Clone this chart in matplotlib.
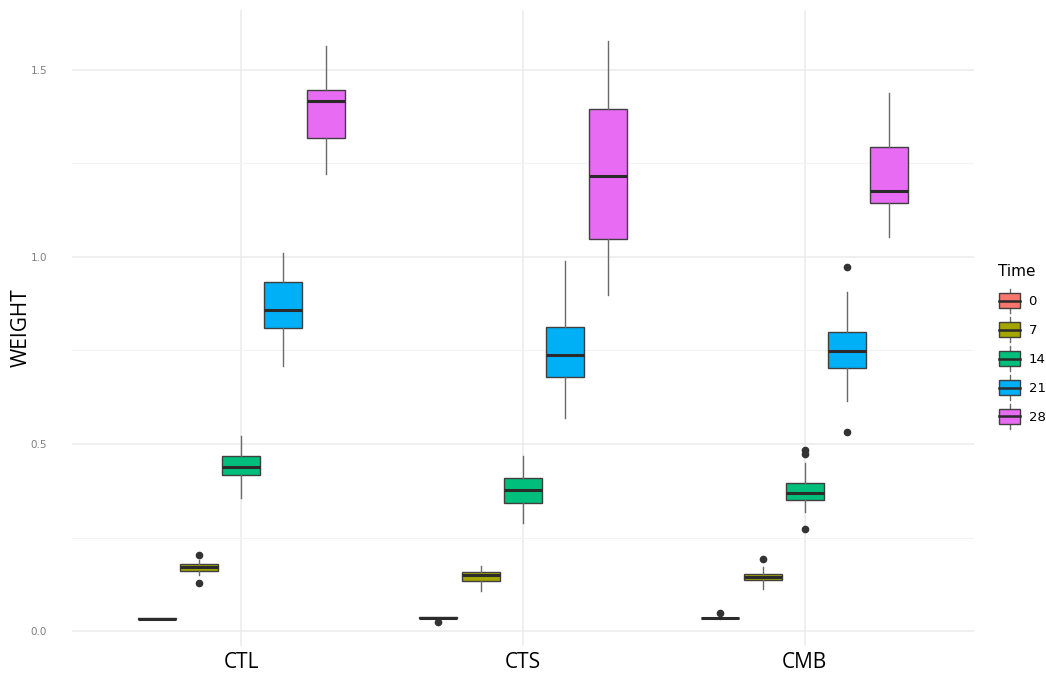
import matplotlib
matplotlib.use("Agg")
import matplotlib.pyplot as plt
from matplotlib.legend_handler import HandlerBase
from matplotlib.patches import Rectangle
from matplotlib.lines import Line2D
import numpy as np

# Treatments on the x axis and sampling days (hue)
treatments = ["CTL", "CTS", "CMB"]
times = ["0", "7", "14", "21", "28"]
colors = ["#F8766D", "#A3A500", "#00BF7D", "#00B0F6", "#E76BF3"]

# Box statistics per treatment, one entry per time: lower whisker, Q1, median, Q3, upper whisker
ctl_whislo = [0.031, 0.150, 0.356, 0.709, 1.222]
ctl_q1     = [0.032, 0.160, 0.417, 0.811, 1.319]
ctl_med    = [0.033, 0.170, 0.439, 0.858, 1.417]
ctl_q3     = [0.034, 0.178, 0.467, 0.933, 1.447]
ctl_whishi = [0.035, 0.190, 0.521, 1.010, 1.565]
ctl_fliers = [[], [0.203, 0.128], [], [], []]

cts_whislo = [0.034, 0.106, 0.289, 0.570, 0.897]
cts_q1     = [0.035, 0.134, 0.342, 0.680, 1.047]
cts_med    = [0.036, 0.149, 0.377, 0.738, 1.217]
cts_q3     = [0.037, 0.157, 0.409, 0.814, 1.396]
cts_whishi = [0.038, 0.174, 0.468, 0.988, 1.578]
cts_fliers = [[0.025], [], [], [], []]

cmb_whislo = [0.033, 0.112, 0.318, 0.615, 1.054]
cmb_q1     = [0.034, 0.136, 0.350, 0.704, 1.145]
cmb_med    = [0.035, 0.144, 0.369, 0.749, 1.175]
cmb_q3     = [0.036, 0.152, 0.396, 0.800, 1.295]
cmb_whishi = [0.037, 0.172, 0.449, 0.907, 1.438]
cmb_fliers = [[0.047], [0.192], [0.485, 0.472, 0.273], [0.972, 0.533], []]

groups = [
    (ctl_whislo, ctl_q1, ctl_med, ctl_q3, ctl_whishi, ctl_fliers),
    (cts_whislo, cts_q1, cts_med, cts_q3, cts_whishi, cts_fliers),
    (cmb_whislo, cmb_q1, cmb_med, cmb_q3, cmb_whishi, cmb_fliers),
]

fig = plt.figure(figsize=(10.46, 6.78), dpi=100)
ax = fig.add_axes([72 / 1046, 1 - 646 / 678, (974 - 72) / 1046, (646 - 10) / 678])

edge = "#3f3f3f"
whisk = "#6a6a6a"
dodge = 0.15
box_w = 0.135

for gi, (wlo, q1, med, q3, whi, fl) in enumerate(groups):
    for ti in range(len(times)):
        pos = gi + 1 + (ti - 2) * dodge
        stats = [dict(whislo=wlo[ti], q1=q1[ti], med=med[ti], q3=q3[ti],
                      whishi=whi[ti], fliers=fl[ti])]
        ax.bxp(stats, positions=[pos], widths=box_w, patch_artist=True,
               showcaps=False, manage_ticks=False,
               boxprops=dict(facecolor=colors[ti], edgecolor=edge, linewidth=1.0),
               medianprops=dict(color="#2b2b2b", linewidth=2.2, solid_capstyle="butt"),
               whiskerprops=dict(color=whisk, linewidth=1.0),
               flierprops=dict(marker="o", markersize=4.5, markerfacecolor="#333333",
                               markeredgecolor="#333333", linestyle="none"),
               zorder=3)

ax.set_xlim(0.4, 3.6)
ax.set_ylim(-0.04, 1.66)
ax.set_xticks([1, 2, 3])
ax.set_xticklabels(treatments, fontsize=15, family="Open Sans")
ax.set_yticks([0.0, 0.5, 1.0, 1.5])
ax.set_yticklabels(["0.0", "0.5", "1.0", "1.5"], fontsize=7.5, color="#7f7f7f")
ax.set_yticks([0.25, 0.75, 1.25], minor=True)
ax.tick_params(axis="both", which="both", length=0)
ax.tick_params(axis="x", pad=4)
ax.tick_params(axis="y", pad=18)
ax.grid(True, which="major", color="#EBEBEB", linewidth=1.1, zorder=0)
ax.grid(True, which="minor", axis="y", color="#F3F3F3", linewidth=0.8, zorder=0)
ax.set_axisbelow(True)
for s in ax.spines.values():
    s.set_visible(False)
ax.set_ylabel("WEIGHT", fontsize=15, family="Open Sans")
ax.yaxis.set_label_coords((32 - 72) / 902, 0.5)


class BoxKey(HandlerBase):
    def create_artists(self, legend, orig_handle, xdescent, ydescent, width, height,
                       fontsize, trans):
        fc = orig_handle.get_facecolor()
        cx = width / 2 - xdescent
        bw = width * 0.92
        bh = height * 1.05
        y0 = -ydescent + (height - bh) / 2
        wl1 = Line2D([cx, cx], [y0 - height * 0.35, y0], color=whisk, lw=1.0, transform=trans)
        wl2 = Line2D([cx, cx], [y0 + bh, y0 + bh + height * 0.35], color=whisk, lw=1.0, transform=trans)
        rect = Rectangle((cx - bw / 2, y0), bw, bh, facecolor=fc, edgecolor=edge, lw=1.0,
                         transform=trans)
        med = Line2D([cx - bw / 2, cx + bw / 2], [y0 + bh / 2, y0 + bh / 2], color="#2b2b2b",
                     lw=1.8, transform=trans)
        return [wl1, wl2, rect, med]


handles = [Rectangle((0, 0), 1, 1, facecolor=c) for c in colors]
leg = fig.legend(handles, times, handler_map={Rectangle: BoxKey()},
                 loc="upper left", bbox_to_anchor=(989 / 1046, 1 - 255 / 678),
                 frameon=False, title="Time", title_fontsize=11, fontsize=9.5,
                 handlelength=1.75, handleheight=1.25, labelspacing=1.1,
                 handletextpad=0.55, alignment="left", borderaxespad=0.3)

fig.savefig("out.png", dpi=100, facecolor="white")
